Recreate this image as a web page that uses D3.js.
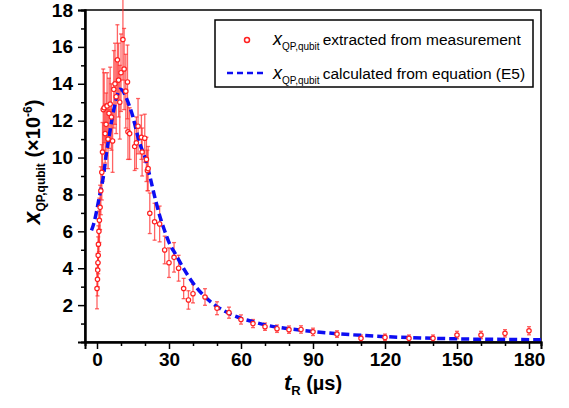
<!DOCTYPE html>
<html lang="en">
<head>
    <meta charset="UTF-8">
    <title>x_QP,qubit vs t_R</title>
    <script src="https://d3js.org/d3.v7.min.js"></script>
    <style>
        body, html { margin: 0; padding: 0; background: #fff; overflow: hidden; }
        svg { display: block; font-family: "Liberation Sans", Arial, sans-serif; }
    </style>
</head>
<body>
<svg width="569" height="408"></svg>
<script>
    const width = 569, height = 408;

    // measured points: time (us), x_QP (x1e-6), error bar half-height
    const tMeas = [0.0, 0.2, 0.3, 0.4, 0.5, 0.6, 0.8, 1.0, 1.3, 1.6, 2.0, 2.3, 2.6, 3.0, 3.4, 3.8,
        4.2, 4.6, 5.0, 5.5, 6.0, 6.5, 7.0, 7.5, 8.0, 8.5, 9.0, 9.5, 10.0, 10.8, 11.3, 12.0, 12.7,
        12.9, 13.6, 15.7, 16.4, 17.1, 18.5, 18.8, 19.9, 20.6, 21.0, 21.3, 22.0, 24.0, 26.1, 28.2,
        30.0, 32.1, 34.0, 36.1, 38.1, 40, 45, 50, 55, 60, 65, 70, 75, 80, 85, 90, 100, 110, 120,
        130, 140, 150, 160, 170, 180];
    const xMeas = [2.9, 3.4, 3.9, 4.3, 4.7, 5.3, 6.0, 6.6, 7.3, 8.2, 9.2, 10.3, 12.6, 12.7, 11.3, 11.8,
        12.8, 11.0, 12.4, 12.9, 12.2, 10.9, 13.7, 14.0, 13.3, 15.3, 14.2, 13.0, 14.6, 16.4, 14.8, 13.6, 14.1,
        11.4, 11.3, 10.6, 10.8, 11.7, 11.1, 10.3, 11.05, 9.9, 9.3, 9.4, 6.98, 6.52, 6.4, 4.99,
        4.3, 4.59, 4.0, 2.9, 2.28, 2.62, 2.44, 1.83, 1.59, 1.22, 1.0, 0.83, 0.72, 0.67, 0.68, 0.55, 0.43, 0.2, 0.25,
        0.2, 0.2, 0.38, 0.38, 0.47, 0.61];
    const errMeas = [1.1, 0.9, 0.9, 0.9, 1.0, 1.0, 1.1, 1.2, 1.2, 1.3, 1.5, 1.6, 2.2, 1.9, 1.6, 1.7,
        1.8, 1.6, 1.9, 2.0, 1.8, 1.7, 2.1, 2.2, 2.0, 1.9, 2.0, 2.0, 2.1, 2.2, 2.2, 2.0, 2.0,
        1.5, 1.4, 1.3, 1.4, 1.5, 1.2, 1.3, 1.3, 1.2, 1.1, 1.2, 1.1, 1.0, 0.97, 0.75,
        0.8, 0.8, 0.7, 0.55, 0.5, 0.5, 0.45, 0.35, 0.3, 0.25, 0.22, 0.2, 0.2, 0.2, 0.2, 0.2, 0.18, 0.18, 0.18,
        0.18, 0.18, 0.2, 0.2, 0.2, 0.22];

    // model curve from equation (E5)
    const tCalc = [-2.3, -1.5, 0, 0.5, 1.5, 2.5, 4, 5.5, 7, 8.5, 9.5, 10.5, 12, 13.5, 15, 16.5, 18, 20,
        22, 24, 26, 28, 30, 33, 36, 40, 45, 50, 55, 60, 65, 70, 80, 90, 100, 110, 120, 130, 140, 150,
        160, 170, 185];
    const xCalc = [6.05, 6.35, 7.2, 7.55, 8.2, 8.85, 10.3, 11.5, 12.6, 13.4, 13.7, 13.65, 13.3, 12.8, 12.2,
        11.4, 10.7, 10.0, 9.0, 7.9, 6.9, 6.1, 5.4, 4.7, 4.0, 3.2, 2.45, 1.92, 1.55, 1.28, 1.1, 0.93, 0.72,
        0.57, 0.45, 0.36, 0.29, 0.24, 0.2, 0.17, 0.15, 0.14, 0.12];

    const xMajor = [0, 30, 60, 90, 120, 150, 180];
    const xMinor = [10, 20, 40, 50, 70, 80, 100, 110, 130, 140, 160, 170];
    const yMajor = [2, 4, 6, 8, 10, 12, 14, 16, 18];
    const yMinor = [1, 3, 5, 7, 9, 11, 13, 15, 17];

    const svg = d3.select("svg");
    const mLeft = 85, mRight = 541, mTop = 10, mBottom = 342;

    const x = d3.scaleLinear().domain([-5, 185]).range([mLeft, mRight]);
    const y = d3.scaleLinear().domain([0, 18]).range([mBottom, mTop]);

    // frame
    svg.append("rect")
        .attr("x", mLeft).attr("y", mTop)
        .attr("width", mRight - mLeft).attr("height", mBottom - mTop)
        .attr("fill", "none").attr("stroke", "#000").attr("stroke-width", 1.5);

    // error bars
    const meas = tMeas.map((t, i) => ({ t, v: xMeas[i], e: errMeas[i] }));
    const bars = svg.append("g").attr("stroke", "#ff3030").attr("stroke-opacity", 0.75).attr("stroke-width", 1.3);
    meas.forEach(d => {
        const x0 = x(d.t), y1 = y(d.v + d.e), y2 = y(d.v - d.e);
        bars.append("line").attr("x1", x0).attr("x2", x0).attr("y1", y1).attr("y2", y2);
        bars.append("line").attr("x1", x0 - 2).attr("x2", x0 + 2).attr("y1", y1).attr("y2", y1);
        bars.append("line").attr("x1", x0 - 2).attr("x2", x0 + 2).attr("y1", y2).attr("y2", y2);
    });

    // model curve
    const line = d3.line().x((d, i) => x(tCalc[i])).y(d => y(d)).curve(d3.curveMonotoneX);
    svg.append("path")
        .attr("d", line(xCalc))
        .attr("fill", "none")
        .attr("stroke", "#0d0df2")
        .attr("stroke-width", 3.5)
        .attr("stroke-dasharray", "8,4");

    // measured points
    svg.append("g").selectAll("circle")
        .data(meas)
        .enter().append("circle")
        .attr("cx", d => x(d.t))
        .attr("cy", d => y(d.v))
        .attr("r", 2.2)
        .attr("fill", "#fff")
        .attr("stroke", "#ff2020")
        .attr("stroke-width", 1.2);

    // axes
    svg.append("g").attr("transform", `translate(0,${mBottom})`)
        .call(d3.axisBottom(x).tickValues(xMajor).tickSize(7).tickPadding(4));
    svg.append("g").attr("transform", `translate(0,${mBottom})`)
        .call(d3.axisBottom(x).tickValues(xMinor).tickSize(4).tickFormat(""));
    svg.append("g").attr("transform", `translate(${mLeft},0)`)
        .call(d3.axisLeft(y).tickValues(yMajor).tickSize(7).tickPadding(5));
    svg.append("g").attr("transform", `translate(${mLeft},0)`)
        .call(d3.axisLeft(y).tickValues(yMinor).tickSize(4).tickFormat(""));

    svg.selectAll(".domain").attr("stroke-width", 2);
    svg.selectAll(".tick line").attr("stroke-width", 1.5);
    svg.selectAll(".tick text")
        .attr("font-family", "'Liberation Sans', Arial, sans-serif")
        .attr("font-size", 19).attr("font-weight", "bold").attr("fill", "#000");

    // axis titles
    const xt = svg.append("text").attr("x", 313).attr("y", 390)
        .attr("text-anchor", "middle").attr("font-weight", "bold").attr("font-size", 20);
    xt.append("tspan").attr("font-style", "italic").attr("font-size", 22).text("t");
    xt.append("tspan").attr("font-size", 13).attr("dy", 5).text("R");
    xt.append("tspan").attr("dy", -5).text(" (µs)");

    const yt = svg.append("text").attr("transform", "translate(40,162) rotate(-90)")
        .attr("text-anchor", "middle").attr("font-weight", "bold").attr("font-size", 20);
    yt.append("tspan").attr("font-style", "italic").attr("font-size", 23).text("x");
    yt.append("tspan").attr("font-size", 12).attr("dy", 5).text("QP,qubit");
    yt.append("tspan").attr("dy", -5).text(" (×10");
    yt.append("tspan").attr("font-size", 12).attr("dy", -8).text("-6");
    yt.append("tspan").attr("dy", 8).text(")");

    // legend
    const lg = svg.append("g");
    lg.append("rect").attr("x", 215).attr("y", 20).attr("width", 318).attr("height", 67)
        .attr("fill", "#fff").attr("stroke", "#000").attr("stroke-width", 1.5);
    lg.append("circle").attr("cx", 247).attr("cy", 40).attr("r", 2.5)
        .attr("fill", "#fff").attr("stroke", "#ff2020").attr("stroke-width", 1.5);
    lg.append("line").attr("x1", 227).attr("x2", 264).attr("y1", 73).attr("y2", 73)
        .attr("stroke", "#0d0df2").attr("stroke-width", 2.5).attr("stroke-dasharray", "6,4");
    const labels = ["extracted from measurement", "calculated from equation (E5)"];
    labels.forEach((s, i) => {
        const t = lg.append("text").attr("x", 273).attr("y", 45 + i * 34).attr("font-size", 15.5);
        t.append("tspan").attr("font-style", "italic").attr("font-size", 18).text("x");
        t.append("tspan").attr("font-size", 10).attr("dy", 5).text("QP,qubit");
        t.append("tspan").attr("dy", -5).attr("dx", 3).text(s);
    });
</script>
</body>
</html>
